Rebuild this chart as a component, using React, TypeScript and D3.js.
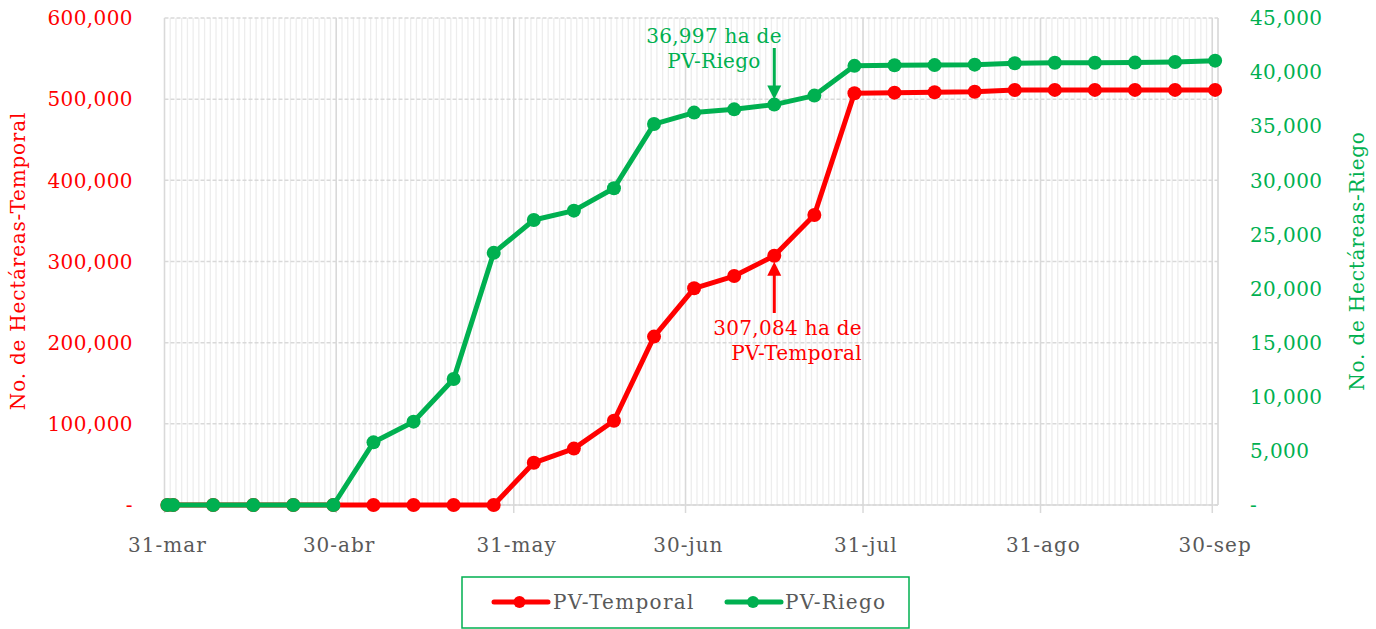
import React from "react";
import * as d3 from "d3";

// fechas de corte (semanales)
const dates = [
  "2023-03-31", "2023-04-01", "2023-04-08", "2023-04-15", "2023-04-22", "2023-04-29",
  "2023-05-06", "2023-05-13", "2023-05-20", "2023-05-27", "2023-06-03", "2023-06-10",
  "2023-06-17", "2023-06-24", "2023-07-01", "2023-07-08", "2023-07-15", "2023-07-22",
  "2023-07-29", "2023-08-05", "2023-08-12", "2023-08-19", "2023-08-26", "2023-09-02",
  "2023-09-09", "2023-09-16", "2023-09-23", "2023-09-30",
];

const temporal = [
  0, 0, 0, 0, 0, 0, 0, 0, 0, 0, 52000, 69500, 103800, 207500, 267000, 282100,
  307084, 357300, 507200, 508000, 508500, 509200, 511300, 511400, 511400, 511400,
  511400, 511400,
];

const riego = [
  0, 0, 0, 0, 0, 0, 5790, 7700, 11640, 23300, 26330, 27200, 29270, 35200, 36260,
  36560, 36997, 37830, 40580, 40630, 40650, 40690, 40820, 40870, 40870, 40880,
  40930, 41060,
];

const monthTicks = ["2023-03-31", "2023-04-30", "2023-05-31", "2023-06-30", "2023-07-31", "2023-08-31", "2023-09-30"];
const monthLabels = ["31-mar", "30-abr", "31-may", "30-jun", "31-jul", "31-ago", "30-sep"];

const leftTicks = [0, 100000, 200000, 300000, 400000, 500000, 600000];
const rightTicks = [0, 5000, 10000, 15000, 20000, 25000, 30000, 35000, 40000, 45000];

const RED = "#ff0000";
const GREEN = "#00b050";
const GRAY = "#595959";
const FONT = "DejaVu Serif";

const parse = d3.timeParse("%Y-%m-%d");

export default function App() {
  const width = 1376;
  const height = 629;
  const x0 = 164.5, x1 = 1218, yTop = 18, yBottom = 505;

  const start = parse("2023-03-31")!;
  const end = parse("2023-10-01")!;
  const x = d3.scaleTime().domain([start, end]).range([x0, x1]);
  const yL = d3.scaleLinear().domain([0, 600000]).range([yBottom, yTop]);
  const yR = d3.scaleLinear().domain([0, 45000]).range([yBottom, yTop]);

  // points sit in the middle of each day slot
  const mid = (s: string) => d3.timeHour.offset(parse(s)!, 12);
  const fmt = d3.format(",");
  const lab = (v: number) => (v === 0 ? "-" : fmt(v));

  const ptsT = dates.map((d, i) => [x(mid(d)), yL(temporal[i])] as [number, number]);
  const ptsR = dates.map((d, i) => [x(mid(d)), yR(riego[i])] as [number, number]);
  const line = d3.line();

  const days = d3.timeDay.range(start, d3.timeDay.offset(end, 1));

  const annIdx = dates.indexOf("2023-07-15");
  const ax = x(mid(dates[annIdx]));
  const tipG = yR(riego[annIdx]) - 5;
  const tipT = yL(temporal[annIdx]) + 6;

  return (
    <svg width={width} height={height} style={{ position: "absolute", left: 0, top: 0, background: "#fff" }}>
      {/* minor daily gridlines */}
      <g>
        {days.map((d, i) => (
          <line key={i} x1={x(d)} x2={x(d)} y1={yTop} y2={yBottom} stroke="#ededed" strokeWidth={1.3} />
        ))}
      </g>
      {/* horizontal gridlines */}
      <g>
        {leftTicks.map((t) => (
          <line key={t} x1={x0} x2={x1} y1={yL(t)} y2={yL(t)} stroke="#d9d9d9" strokeWidth={1.5} strokeDasharray="4,2" />
        ))}
      </g>
      {/* major gridlines */}
      <g>
        {monthTicks.map((t) => (
          <line key={t} x1={x(parse(t)!)} x2={x(parse(t)!)} y1={yTop} y2={yBottom + 8} stroke="#d9d9d9" strokeWidth={1.5} />
        ))}
        <line x1={x1} x2={x1} y1={yTop} y2={yBottom} stroke="#d9d9d9" strokeWidth={1.5} />
        <line x1={x0} x2={x1} y1={yBottom} y2={yBottom} stroke="#d9d9d9" strokeWidth={1.5} />
      </g>

      {/* x labels */}
      <g fontFamily={FONT} fontSize={20} fill={GRAY} textAnchor="middle" letterSpacing={1}>
        {monthTicks.map((t, i) => (
          <text key={t} x={x(mid(t))} y={552}>{monthLabels[i]}</text>
        ))}
      </g>
      {/* left axis */}
      <g fontFamily={FONT} fontSize={20} fill={RED} textAnchor="end" letterSpacing={0.4}>
        {leftTicks.map((t) => (
          <text key={t} x={133} y={yL(t)} dy="0.36em">{lab(t)}</text>
        ))}
      </g>
      <text transform="translate(25,261) rotate(-90)" textAnchor="middle" fontFamily={FONT} fontSize={20} letterSpacing={0.8} fill={RED}>
        No. de Hectáreas-Temporal
      </text>
      {/* right axis */}
      <g fontFamily={FONT} fontSize={20} fill={GREEN} textAnchor="start" letterSpacing={0.4}>
        {rightTicks.map((t) => (
          <text key={t} x={1250} y={yR(t)} dy="0.36em">{lab(t)}</text>
        ))}
      </g>
      <text transform="translate(1364,261) rotate(-90)" textAnchor="middle" fontFamily={FONT} fontSize={20} letterSpacing={0.8} fill={GREEN}>
        No. de Hectáreas-Riego
      </text>

      {/* series */}
      <path d={line(ptsT) || ""} fill="none" stroke={RED} strokeWidth={5} strokeLinejoin="round" />
      {ptsT.map((p, i) => (
        <circle key={i} cx={p[0]} cy={p[1]} r={7} fill={RED} />
      ))}
      <path d={line(ptsR) || ""} fill="none" stroke={GREEN} strokeWidth={5} strokeLinejoin="round" />
      {ptsR.map((p, i) => (
        <circle key={i} cx={p[0]} cy={p[1]} r={7} fill={GREEN} />
      ))}

      {/* annotations */}
      <line x1={ax} x2={ax} y1={48} y2={tipG - 12} stroke={GREEN} strokeWidth={3} />
      <path d={`M${ax - 7},${tipG - 14} L${ax + 7},${tipG - 14} L${ax},${tipG} Z`} fill={GREEN} />
      <g fontFamily={FONT} fontSize={20} fill={GREEN} textAnchor="middle" letterSpacing={0.3}>
        <text x={714} y={43}>36,997 ha de</text>
        <text x={714} y={68}>PV-Riego</text>
      </g>
      <line x1={ax} x2={ax} y1={313} y2={tipT + 12} stroke={RED} strokeWidth={3} />
      <path d={`M${ax - 7},${tipT + 14} L${ax + 7},${tipT + 14} L${ax},${tipT} Z`} fill={RED} />
      <g fontFamily={FONT} fontSize={20} fill={RED} textAnchor="end" letterSpacing={0.3}>
        <text x={862} y={335}>307,084 ha de</text>
        <text x={862} y={360}>PV-Temporal</text>
      </g>

      {/* legend */}
      <rect x={462} y={577} width={447} height={51} fill="#fff" stroke={GREEN} strokeWidth={1.5} />
      <line x1={494} x2={548} y1={602} y2={602} stroke={RED} strokeWidth={5} strokeLinecap="round" />
      <circle cx={519.5} cy={602} r={6} fill={RED} />
      <text x={553} y={602} dy="0.36em" fontFamily={FONT} fontSize={20} letterSpacing={1.3} fill={GRAY}>PV-Temporal</text>
      <line x1={727} x2={781} y1={602} y2={602} stroke={GREEN} strokeWidth={5} strokeLinecap="round" />
      <circle cx={753} cy={602} r={6} fill={GREEN} />
      <text x={785} y={602} dy="0.36em" fontFamily={FONT} fontSize={20} letterSpacing={1.3} fill={GRAY}>PV-Riego</text>
    </svg>
  );
}
